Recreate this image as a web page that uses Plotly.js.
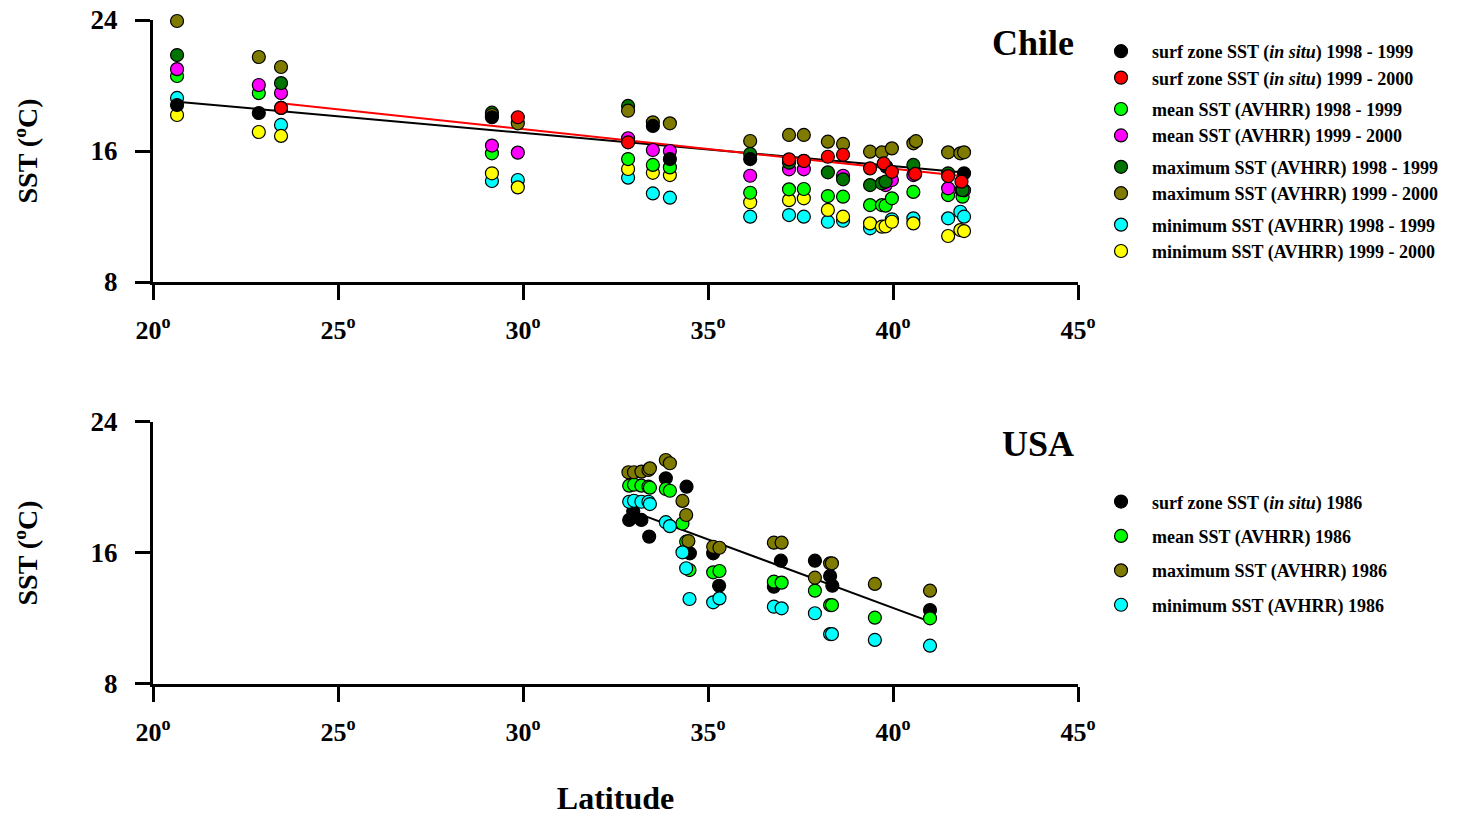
<!DOCTYPE html>
<html><head><meta charset="utf-8">
<script src="https://cdn.plot.ly/plotly-3.0.1.min.js"></script>
<style>html,body{margin:0;padding:0;background:#fff}#chart{width:1462px;height:816px}</style>
</head><body><div id="chart"></div>
<script>
// ---------- Chile ----------
var chileInsitu98Lat = [20.65, 22.86, 23.46, 29.16, 33.51, 33.97, 36.14, 37.59, 39.82, 41.92];
var chileInsitu98Val = [18.81, 18.32, 18.63, 18.06, 17.53, 15.51, 15.51, 15.4, 15.04, 14.64];
var chileInsitu99Lat = [23.46, 29.86, 32.84, 37.19, 37.59, 38.24, 38.65, 39.38, 39.75, 39.97, 40.6, 41.49, 41.85];
var chileInsitu99Val = [18.63, 18.06, 16.53, 15.49, 15.39, 15.65, 15.77, 14.94, 15.24, 14.73, 14.6, 14.47, 14.13];
var chileMean98Lat = [20.65, 22.86, 29.16, 32.84, 33.51, 33.97, 36.14, 37.19, 37.59, 38.24, 38.65, 39.38, 39.7, 39.8, 39.97, 40.55, 41.49, 41.88];
var chileMean98Val = [20.58, 19.54, 15.86, 15.51, 15.15, 15.0, 13.45, 13.66, 13.68, 13.25, 13.21, 12.7, 12.7, 12.66, 13.11, 13.5, 13.31, 13.21];
var chileMean99Lat = [20.65, 22.86, 23.46, 29.16, 29.86, 32.84, 33.51, 33.97, 36.14, 37.19, 37.59, 38.65, 39.8, 39.97, 40.55, 41.49, 41.85, 41.92];
var chileMean99Val = [21.0, 20.03, 19.54, 16.33, 15.9, 16.78, 16.06, 16.0, 14.49, 14.88, 14.88, 14.49, 13.92, 14.23, 14.53, 13.72, 13.62, 13.6];
var chileMax98Lat = [20.65, 23.46, 29.16, 32.84, 36.14, 37.19, 38.24, 38.65, 39.38, 39.7, 39.8, 40.55, 41.49, 41.88];
var chileMax98Val = [21.86, 20.15, 18.34, 18.75, 15.82, 15.29, 14.7, 14.27, 13.92, 14.03, 14.13, 15.15, 14.64, 13.62];
var chileMax99Lat = [20.65, 22.86, 23.46, 29.16, 29.86, 32.84, 33.51, 33.97, 36.14, 37.19, 37.59, 38.24, 38.65, 39.38, 39.7, 39.97, 40.55, 40.62, 41.49, 41.82, 41.92];
var chileMax99Val = [23.94, 21.74, 21.13, 18.2, 17.69, 18.46, 17.75, 17.69, 16.61, 16.98, 16.98, 16.57, 16.43, 15.96, 15.92, 16.16, 16.47, 16.6, 15.92, 15.86, 15.92];
var chileMin98Lat = [20.65, 23.46, 29.16, 29.86, 32.84, 33.51, 33.97, 36.14, 37.19, 37.59, 38.24, 38.65, 39.38, 39.97, 40.55, 41.49, 41.82, 41.92];
var chileMin98Val = [19.24, 17.59, 14.17, 14.23, 14.37, 13.41, 13.15, 11.99, 12.09, 11.99, 11.68, 11.74, 11.28, 11.83, 11.89, 11.89, 12.29, 11.99];
var chileMin99Lat = [20.65, 22.86, 23.46, 29.16, 29.86, 32.84, 33.51, 33.97, 36.14, 37.19, 37.59, 38.24, 38.65, 39.38, 39.7, 39.8, 39.97, 40.55, 41.49, 41.82, 41.92];
var chileMin99Val = [18.2, 17.16, 16.92, 14.64, 13.78, 14.9, 14.67, 14.53, 12.87, 13.0, 13.11, 12.4, 11.99, 11.58, 11.38, 11.4, 11.68, 11.58, 10.81, 11.17, 11.11];
var chileFit98Lat = [20.65, 41.92];
var chileFit98Val = [19.01, 14.69];
var chileFit99Lat = [23.46, 41.86];
var chileFit99Val = [18.91, 14.47];

// ---------- USA ----------
var usaInsituLat = [32.87, 32.98, 33.2, 33.41, 33.86, 34.42, 34.51, 35.14, 35.30, 36.78, 36.97, 37.89, 38.3, 38.36, 41.0];
var usaInsituVal = [18.02, 18.53, 18.02, 17.0, 20.56, 20.05, 15.98, 15.98, 14.0, 13.94, 15.53, 15.53, 14.6, 14.0, 12.52];
var usaMeanLat = [32.87, 33.0, 33.2, 33.39, 33.43, 33.86, 33.97, 34.31, 34.41, 34.5, 35.14, 35.31, 36.78, 36.99, 37.89, 38.3, 38.35, 39.51, 41.0];
var usaMeanVal = [20.11, 20.17, 20.11, 20.05, 19.99, 19.91, 19.8, 17.8, 16.69, 14.96, 14.82, 14.9, 14.25, 14.19, 13.7, 12.82, 12.82, 12.05, 12.01];
var usaMaxLat = [32.85, 33.0, 33.2, 33.39, 33.43, 33.86, 33.97, 34.31, 34.41, 34.47, 35.14, 35.31, 36.78, 36.99, 37.89, 38.3, 38.35, 39.51, 41.0];
var usaMaxVal = [20.93, 20.93, 20.97, 21.07, 21.17, 21.68, 21.48, 19.18, 18.32, 16.73, 16.38, 16.32, 16.63, 16.63, 14.49, 15.37, 15.37, 14.11, 13.7];
var usaMinLat = [32.87, 33.0, 33.2, 33.39, 33.43, 33.86, 33.97, 34.31, 34.41, 34.5, 35.14, 35.31, 36.78, 36.99, 37.89, 38.3, 38.35, 39.51, 41.0];
var usaMinVal = [19.13, 19.19, 19.13, 19.13, 18.99, 17.88, 17.64, 16.04, 15.07, 13.19, 12.99, 13.23, 12.72, 12.62, 12.32, 11.05, 11.05, 10.69, 10.34];
var usaFitLat = [32.97, 41.0];
var usaFitVal = [18.53, 11.81];

// ---------- ticks ----------
var latTicks = [20, 25, 30, 35, 40, 45];
var latTickText = ['20<sup>o</sup>', '25<sup>o</sup>', '30<sup>o</sup>', '35<sup>o</sup>', '40<sup>o</sup>', '45<sup>o</sup>'];
var sstTicks = [8, 16, 24];

var FONT = 'Liberation Serif, Times New Roman, serif';
function pts(x, y, color, name, xa, ya, legend, group, rank) {
  return {
    type: 'scatter', mode: 'markers', x: x, y: y, name: name,
    xaxis: xa, yaxis: ya, legend: legend, legendgroup: group, legendrank: rank,
    cliponaxis: false,
    marker: {size: 13, color: color, line: {color: '#000', width: 1.2}}
  };
}
function fit(x, y, color, xa, ya) {
  return {type: 'scatter', mode: 'lines', x: x, y: y, xaxis: xa, yaxis: ya,
    showlegend: false, hoverinfo: 'skip', line: {color: color, width: 2}};
}

var data = [
  fit(chileFit98Lat, chileFit98Val, '#000000', 'x', 'y'),
  fit(chileFit99Lat, chileFit99Val, '#ff0000', 'x', 'y'),
  pts(chileMin98Lat, chileMin98Val, '#00ffff', 'minimum SST (AVHRR) 1998 - 1999', 'x', 'y', 'legend', 'g4', 7),
  pts(chileMin99Lat, chileMin99Val, '#ffff00', 'minimum SST (AVHRR) 1999 - 2000', 'x', 'y', 'legend', 'g4', 8),
  pts(chileMean98Lat, chileMean98Val, '#00ff00', 'mean SST (AVHRR) 1998 - 1999', 'x', 'y', 'legend', 'g2', 3),
  pts(chileMean99Lat, chileMean99Val, '#ff00ff', 'mean SST (AVHRR) 1999 - 2000', 'x', 'y', 'legend', 'g2', 4),
  pts(chileMax98Lat, chileMax98Val, '#007400', 'maximum SST (AVHRR) 1998 - 1999', 'x', 'y', 'legend', 'g3', 5),
  pts(chileMax99Lat, chileMax99Val, '#7f7a00', 'maximum SST (AVHRR) 1999 - 2000', 'x', 'y', 'legend', 'g3', 6),
  pts(chileInsitu98Lat, chileInsitu98Val, '#000000', 'surf zone SST (<i>in situ</i>) 1998 - 1999', 'x', 'y', 'legend', 'g1', 1),
  pts(chileInsitu99Lat, chileInsitu99Val, '#ff0000', 'surf zone SST (<i>in situ</i>) 1999 - 2000', 'x', 'y', 'legend', 'g1', 2),

  fit(usaFitLat, usaFitVal, '#000000', 'x2', 'y2'),
  pts(usaInsituLat, usaInsituVal, '#000000', 'surf zone SST (<i>in situ</i>) 1986', 'x2', 'y2', 'legend2', 'u1', 1),
  pts(usaMeanLat, usaMeanVal, '#00ff00', 'mean SST (AVHRR) 1986', 'x2', 'y2', 'legend2', 'u2', 2),
  pts(usaMaxLat, usaMaxVal, '#7f7a00', 'maximum SST (AVHRR) 1986', 'x2', 'y2', 'legend2', 'u3', 3),
  pts(usaMinLat, usaMinVal, '#00ffff', 'minimum SST (AVHRR) 1986', 'x2', 'y2', 'legend2', 'u4', 4)
];

function xax(anchor, title) {
  var a = {anchor: anchor, domain: [0, 1], range: [20, 45], tickvals: latTicks, ticktext: latTickText,
    showline: true, linewidth: 3, linecolor: '#000', ticks: 'outside', ticklen: 15, tickwidth: 3, tickcolor: '#000',
    showgrid: false, zeroline: false, ticklabelstandoff: 8,
    tickfont: {family: FONT, size: 26, weight: 'bold', color: '#000'}};
  if (title) a.title = {text: title, standoff: 45, font: {family: FONT, size: 32, weight: 'bold', color: '#000'}};
  return a;
}
function yax(anchor, domain) {
  return {anchor: anchor, domain: domain, range: [8, 24], tickvals: sstTicks,
    showline: true, linewidth: 3, linecolor: '#000', ticks: 'outside', ticklen: 15, tickwidth: 3, tickcolor: '#000',
    showgrid: false, zeroline: false, ticklabelstandoff: 12,
    tickfont: {family: FONT, size: 27, weight: 'bold', color: '#000'},
    title: {text: 'SST (<sup>o</sup>C)', standoff: 45, font: {family: FONT, size: 28, weight: 'bold', color: '#000'}}};
}

var legFont = {family: FONT, size: 18, weight: 'bold', color: '#000'};
var layout = {
  width: 1462, height: 816,
  margin: {l: 153, r: 384, t: 20, b: 132},
  paper_bgcolor: '#fff', plot_bgcolor: '#fff',
  showlegend: true,
  xaxis: xax('y', null),
  yaxis: yax('x', [0.6054, 1]),
  xaxis2: xax('y2', 'Latitude'),
  yaxis2: yax('x2', [0, 0.3946]),
  legend: {x: 1.013, y: 0.9804, xanchor: 'left', yanchor: 'top', font: legFont, traceorder: 'grouped',
    tracegroupgap: 5, itemwidth: 52, bgcolor: 'rgba(0,0,0,0)', borderwidth: 0},
  legend2: {x: 1.013, y: 0.3022, xanchor: 'left', yanchor: 'top', font: legFont, traceorder: 'grouped',
    tracegroupgap: 8, itemwidth: 52, bgcolor: 'rgba(0,0,0,0)', borderwidth: 0},
  annotations: [
    {text: 'Chile', xref: 'paper', yref: 'paper', x: 0.9978, y: 0.9654, xanchor: 'right', yanchor: 'middle',
     showarrow: false, font: {family: FONT, size: 36, weight: 'bold', color: '#000'}},
    {text: 'USA', xref: 'paper', yref: 'paper', x: 0.9978, y: 0.3614, xanchor: 'right', yanchor: 'middle',
     showarrow: false, font: {family: FONT, size: 36, weight: 'bold', color: '#000'}}
  ]
};

Plotly.newPlot('chart', data, layout, {staticPlot: true, displayModeBar: false});
</script></body></html>
